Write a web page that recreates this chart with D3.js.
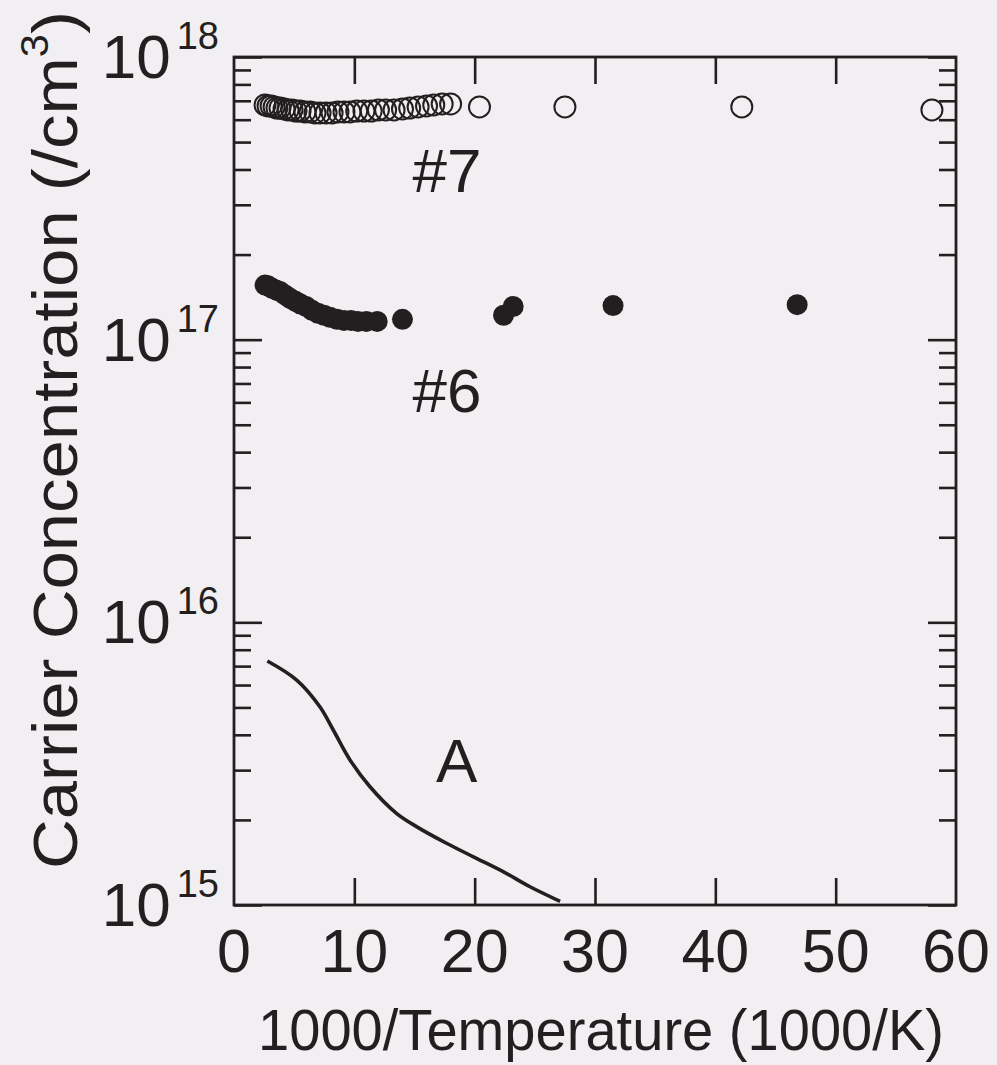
<!DOCTYPE html>
<html>
<head>
<meta charset="utf-8">
<script src="https://cdn.jsdelivr.net/npm/d3@7"></script>
<style>
  html, body { margin: 0; padding: 0; background: #f1eff1; }
  svg { display: block; }
  text { font-family: "Liberation Sans", Arial, Helvetica, sans-serif; fill: #231f20; }
  .tick line { stroke: #231f20; stroke-width: 2.6; }
</style>
</head>
<body>
<svg width="997" height="1065"></svg>
<script>
// sample #7 (open circles)
const temp7 = [2.58, 2.83, 3.08, 3.33, 3.57, 3.82, 4.16, 4.49, 4.82, 5.15, 5.49, 5.90, 6.32, 6.73, 7.15,
  7.65, 8.15, 8.64, 9.14, 9.64, 10.2, 10.8, 11.4, 12.0, 12.6, 13.3, 14.0, 14.6, 15.3, 16.0, 16.6, 17.3, 18.0,
  20.4, 27.5, 42.2, 58.0];
const conc7 = [6.77e17, 6.71e17, 6.71e17, 6.66e17, 6.60e17, 6.60e17, 6.55e17, 6.50e17, 6.50e17, 6.44e17,
  6.44e17, 6.39e17, 6.39e17, 6.34e17, 6.34e17, 6.34e17, 6.34e17, 6.39e17, 6.39e17, 6.39e17, 6.44e17, 6.44e17,
  6.44e17, 6.50e17, 6.50e17, 6.50e17, 6.55e17, 6.60e17, 6.66e17, 6.71e17, 6.77e17, 6.82e17, 6.82e17,
  6.66e17, 6.66e17, 6.66e17, 6.50e17];

// sample #6 (filled circles)
const temp6 = [2.58, 2.83, 3.16, 3.49, 3.82, 4.24, 4.66, 5.07, 5.49, 5.99, 6.48, 6.98, 7.48, 7.98, 8.56,
  9.14, 9.73, 10.3, 11.0, 11.9, 14.0, 22.4, 23.2, 31.5, 46.8];
const conc6 = [1.56e17, 1.55e17, 1.52e17, 1.50e17, 1.48e17, 1.44e17, 1.40e17, 1.37e17, 1.34e17, 1.31e17,
  1.27e17, 1.24e17, 1.22e17, 1.20e17, 1.18e17, 1.17e17, 1.17e17, 1.16e17, 1.16e17, 1.16e17, 1.18e17,
  1.22e17, 1.31e17, 1.32e17, 1.33e17];

// curve A
const tempA = [2.77, 5.21, 7.15, 8.25, 9.64, 11.3, 13.5, 15.2, 17.7, 19.9, 22.4, 24.6, 27.1];
const concA = [7.3e15, 6.25e15, 5.02e15, 4.16e15, 3.26e15, 2.62e15, 2.11e15, 1.89e15, 1.65e15, 1.48e15,
  1.31e15, 1.16e15, 1.03e15];

const xTicks = [0, 10, 20, 30, 40, 50, 60];
const yMajor = [1e15, 1e16, 1e17, 1e18];
const yExp = ["15", "16", "17", "18"];
const labels = [
  { text: "#7", x: 17.7, y: 3.33e17 },
  { text: "#6", x: 17.7, y: 5.55e16 },
  { text: "A", x: 18.5, y: 2.72e15 }
];

const svg = d3.select("svg");
const ink = "#231f20";

const x = d3.scaleLinear().domain([0, 60]).range([234, 956]);
const y = d3.scaleLog().domain([1e15, 1e18]).range([905, 57]);

const yMinor = y.ticks().filter((d) => !yMajor.includes(d));
const inner = [10, 20, 30, 40, 50];

// ticks, all pointing into the frame
svg.append("g").attr("transform", `translate(0,${y(1e15)})`)
  .call(d3.axisTop(x).tickValues(inner).tickSize(27).tickFormat(""));
svg.append("g").attr("transform", `translate(0,${y(1e18)})`)
  .call(d3.axisBottom(x).tickValues(inner).tickSize(27).tickFormat(""));
svg.append("g").attr("transform", `translate(${x(0)},0)`)
  .call(d3.axisRight(y).tickValues(yMajor).tickSize(28).tickFormat(""));
svg.append("g").attr("transform", `translate(${x(0)},0)`)
  .call(d3.axisRight(y).tickValues(yMinor).tickSize(17).tickFormat(""));
svg.append("g").attr("transform", `translate(${x(60)},0)`)
  .call(d3.axisLeft(y).tickValues(yMajor).tickSize(28).tickFormat(""));
svg.append("g").attr("transform", `translate(${x(60)},0)`)
  .call(d3.axisLeft(y).tickValues(yMinor).tickSize(17).tickFormat(""));
svg.selectAll(".domain").remove();

svg.append("rect")
  .attr("x", x(0)).attr("y", y(1e18))
  .attr("width", x(60) - x(0)).attr("height", y(1e15) - y(1e18))
  .attr("fill", "none").attr("stroke", ink).attr("stroke-width", 2.8);

// x tick labels
svg.selectAll(".xlab").data(xTicks).enter().append("text")
  .attr("class", "xlab")
  .attr("x", (d) => x(d)).attr("y", y(1e15) + 67)
  .attr("text-anchor", "middle").attr("font-size", 61)
  .text((d) => d);

// y tick labels 10^n
const ylab = svg.selectAll(".ylab").data(yMajor).enter().append("text")
  .attr("class", "ylab")
  .attr("x", 219).attr("y", (d) => y(d) + 21)
  .attr("text-anchor", "end").attr("font-size", 62);
ylab.append("tspan").text("10");
ylab.append("tspan").attr("font-size", 38).attr("dx", 6).attr("dy", -29).text((d, i) => yExp[i]);

// axis titles
const xt = svg.append("text")
  .attr("x", 258).attr("y", 1050).attr("font-size", 58)
  .text("1000/Temperature (1000/K)");
xt.attr("textLength", 686).attr("lengthAdjust", "spacingAndGlyphs");

const yt = svg.append("text").attr("font-size", 63);
yt.append("tspan").text("Carrier Concentration (/cm");
yt.append("tspan").attr("font-size", 38).attr("dy", -29).text("3");
yt.append("tspan").attr("dy", 29).text(")");
const yw = yt.node().getBBox().width;
yt.attr("transform", `translate(77,869) rotate(-90) scale(${858 / yw},1)`);

// curve A
const line = d3.line().x((d, i) => x(tempA[i])).y((d) => y(d)).curve(d3.curveCatmullRom);
svg.append("path").datum(concA)
  .attr("d", line)
  .attr("fill", "none").attr("stroke", ink).attr("stroke-width", 3.6);

// #6 filled
svg.selectAll(".s6").data(conc6).enter().append("circle")
  .attr("class", "s6")
  .attr("cx", (d, i) => x(temp6[i])).attr("cy", (d) => y(d))
  .attr("r", 10.5).attr("fill", ink);

// #7 open
svg.selectAll(".s7").data(conc7).enter().append("circle")
  .attr("class", "s7")
  .attr("cx", (d, i) => x(temp7[i])).attr("cy", (d) => y(d))
  .attr("r", 10.5).attr("fill", "none").attr("stroke", ink).attr("stroke-width", 2);

// in-plot labels
svg.selectAll(".lab").data(labels).enter().append("text")
  .attr("class", "lab")
  .attr("x", (d) => x(d.x)).attr("y", (d) => y(d.y))
  .attr("text-anchor", "middle").attr("font-size", 62)
  .text((d) => d.text);
</script>
</body>
</html>
